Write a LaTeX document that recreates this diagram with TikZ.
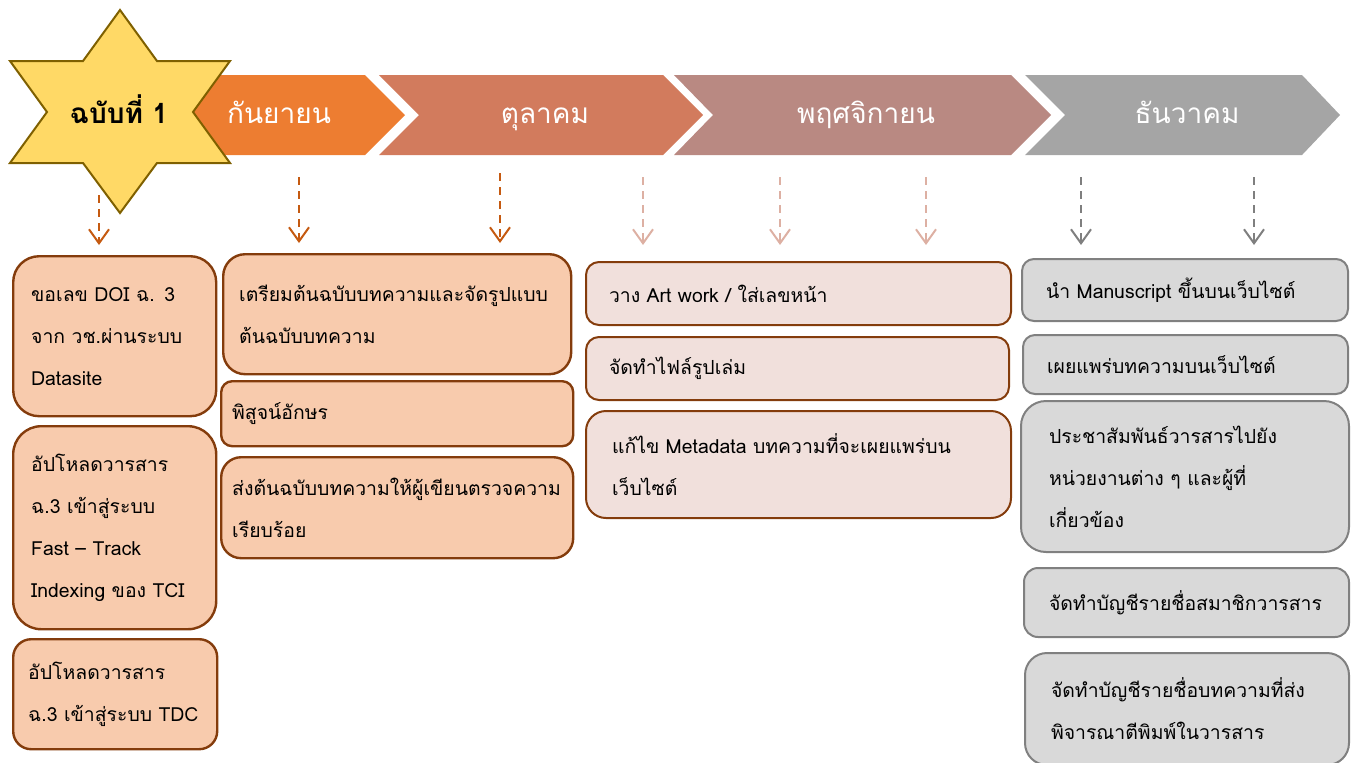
\documentclass[tikz,border=0pt]{standalone}
\usepackage{fontspec}
\setmainfont{Loma}[Script=Thai]
\usetikzlibrary{arrows.meta}
\definecolor{sepFill}{HTML}{ED7D31}
\definecolor{octFill}{HTML}{D27B5D}
\definecolor{novFill}{HTML}{B98982}
\definecolor{decFill}{HTML}{A5A5A5}
\definecolor{starFill}{HTML}{FFD966}
\definecolor{starLine}{HTML}{7F6000}
\definecolor{peachFill}{HTML}{F8CBAD}
\definecolor{roseFill}{HTML}{F1E0DC}
\definecolor{greyFill}{HTML}{D9D9D9}
\definecolor{rustLine}{HTML}{843C0C}
\definecolor{greyLine}{HTML}{808080}
\definecolor{darkArrow}{HTML}{C55A11}
\definecolor{lightArrow}{HTML}{DDB0A3}
\definecolor{greyArrow}{HTML}{7F7F7F}
\tikzset{%
  % Specifications for style of nodes:
       taskBase/.style = {rectangle, anchor=north west, align=left,
                          inner ysep=0pt, line width=1.2pt,
                          font=\fontsize{9.7pt}{21pt}\selectfont},
      issueTask/.style = {taskBase, fill=peachFill, draw=rustLine},
     layoutTask/.style = {taskBase, fill=roseFill, draw=rustLine, line width=1pt},
        webTask/.style = {taskBase, fill=greyFill, draw=greyLine, line width=1pt},
      monthText/.style = {anchor=base, text=white, font=\fontsize{14pt}{16pt}\selectfont},
  % Specifications for style of arrows:
       stepBase/.style = {line width=1pt, dash pattern=on 4pt off 3pt,
                          -{Straight Barb[length=7pt,width=10pt]}},
      darkStep/.style = {stepBase, draw=darkArrow, shorten >=5pt},
     lightStep/.style = {stepBase, draw=lightArrow, shorten >=8pt},
      greyStep/.style = {stepBase, draw=greyArrow, shorten >=6.5pt},
}
\begin{document}
\begin{tikzpicture}[x=0.5pt, y=-0.5pt]
  \useasboundingbox (0,0) rectangle (1354,762);
  % Month chevrons
  \fill[sepFill] (150,75) -- (365,75) -- (405,115) -- (365,155) -- (150,155) -- cycle;
  \fill[octFill] (379,75) -- (663,75) -- (703,115) -- (663,155) -- (379,155) -- (419,115) -- cycle;
  \fill[novFill] (674,75) -- (1011,75) -- (1051,115) -- (1011,155) -- (674,155) -- (713,115) -- cycle;
  \fill[decFill] (1025,75) -- (1302,75) -- (1340,115) -- (1302,155) -- (1025,155) -- (1065,115) -- cycle;
  % Star of the issue
  \draw[fill=starFill, draw=starLine, line width=1pt, line join=miter]
    (120,10) -- (157,61) -- (230,61) -- (193,112) -- (230,163) -- (157,163)
    -- (120,213) -- (83,163) -- (10,163) -- (47,112) -- (10,61) -- (83,61) -- cycle;
  \node (issue) [anchor=base, font=\fontsize{14pt}{16pt}\selectfont\bfseries] at (119,123) {ฉบับที่ 1};
  \node (sep)   [monthText] at (279,123)  {กันยายน};
  \node (oct)   [monthText] at (545,123)  {ตุลาคม};
  \node (nov)   [monthText] at (866,123)  {พฤศจิกายน};
  \node (dec)   [monthText] at (1187,123) {ธันวาคม};

  % Specification of task boxes
  \node (doi)    [issueTask, minimum width=101.5pt, minimum height=80pt, text width=83.5pt,
                  inner xsep=9pt, rounded corners=13pt] at (12,255)
                 {ขอเลข DOI ฉ. 3\\จาก วช.ผ่านระบบ\\Datasite};
  \node (tci)    [issueTask, minimum width=101.5pt, minimum height=101.5pt, text width=83.5pt,
                  inner xsep=9pt, rounded corners=14pt] at (12,425)
                 {อัปโหลดวารสาร\\ฉ.3 เข้าสู่ระบบ\\Fast – Track\\Indexing ของ TCI};
  \node (tdc)    [issueTask, minimum width=102pt, minimum height=55pt, text width=87pt,
                  inner xsep=7.5pt, rounded corners=9pt] at (12,638)
                 {อัปโหลดวารสาร\\\mbox{ฉ.3 เข้าสู่ระบบ TDC}};
  \node (prep)   [issueTask, minimum width=174pt, minimum height=60pt, text width=158pt,
                  inner xsep=8pt, rounded corners=11pt] at (222,253)
                 {เตรียมต้นฉบับบทความและจัดรูปแบบ\\ต้นฉบับบทความ};
  \node (proof)  [issueTask, minimum width=176pt, minimum height=32.5pt, text width=165pt,
                  inner xsep=5.5pt, rounded corners=5.5pt] at (220,380)
                 {พิสูจน์อักษร};
  \node (check)  [issueTask, minimum width=176pt, minimum height=50.5pt, text width=165pt,
                  inner xsep=5.5pt, rounded corners=10pt] at (220,456)
                 {ส่งต้นฉบับบทความให้ผู้เขียนตรวจความ\\เรียบร้อย};
  \node (art)    [layoutTask, minimum width=212.5pt, minimum height=31.5pt, text width=189.5pt,
                  inner xsep=11.5pt, rounded corners=6.5pt] at (585,261)
                 {วาง Art work / ใส่เลขหน้า};
  \node (book)   [layoutTask, minimum width=211.5pt, minimum height=31.5pt, text width=188.5pt,
                  inner xsep=11.5pt, rounded corners=6.5pt] at (585,336)
                 {จัดทำไฟล์รูปเล่ม};
  \node (meta)   [layoutTask, minimum width=212.5pt, minimum height=53.5pt, text width=186.5pt,
                  inner xsep=13pt, rounded corners=10pt] at (585,410)
                 {แก้ไข Metadata บทความที่จะเผยแพร่บน\\เว็บไซต์};
  \node (upload) [webTask, minimum width=163pt, minimum height=31pt, text width=139pt,
                  inner xsep=12pt, rounded corners=6pt] at (1021,258)
                 {นำ Manuscript ขึ้นบนเว็บไซต์};
  \node (online) [webTask, minimum width=162.5pt, minimum height=29.5pt, text width=138.5pt,
                  inner xsep=12pt, rounded corners=6pt] at (1022,334)
                 {เผยแพร่บทความบนเว็บไซต์};
  \node (promo)  [webTask, minimum width=164pt, minimum height=75.5pt, text width=136pt,
                  inner xsep=14pt, rounded corners=12.5pt] at (1020,400)
                 {ประชาสัมพันธ์วารสารไปยัง\\หน่วยงานต่าง ๆ และผู้ที่\\เกี่ยวข้อง};
  \node (member) [webTask, minimum width=162.5pt, minimum height=34.5pt, text width=137.5pt,
                  inner xsep=12.5pt, rounded corners=7pt] at (1023,567)
                 {จัดทำบัญชีรายชื่อสมาชิกวารสาร};
  \node (list)   [webTask, minimum width=162pt, minimum height=56pt, text width=136pt,
                  inner xsep=13pt, rounded corners=11pt] at (1024,652)
                 {จัดทำบัญชีรายชื่อบทความที่ส่ง\\พิจารณาตีพิมพ์ในวารสาร};

  % Tails of the dashed arrows
  \coordinate (issueTail) at (99,195);
  \coordinate (sepTail)   at (299,177);
  \coordinate (octTail)   at (500,173);
  \coordinate (novTailA)  at (643,177);
  \coordinate (novTailB)  at (780,177);
  \coordinate (novTailC)  at (926,177);
  \coordinate (decTailA)  at (1081,177);
  \coordinate (decTailB)  at (1254,177);

  % Specification of arrows down to the boxes
  \draw[darkStep]  (issueTail) -- (issueTail |- doi.north);
  \draw[darkStep]    (sepTail) -- (sepTail |- prep.north);
  \draw[darkStep]    (octTail) -- (octTail |- prep.north);
  \draw[lightStep]  (novTailA) -- (novTailA |- art.north);
  \draw[lightStep]  (novTailB) -- (novTailB |- art.north);
  \draw[lightStep]  (novTailC) -- (novTailC |- art.north);
  \draw[greyStep]   (decTailA) -- (decTailA |- upload.north);
  \draw[greyStep]   (decTailB) -- (decTailB |- upload.north);
\end{tikzpicture}
\end{document}
